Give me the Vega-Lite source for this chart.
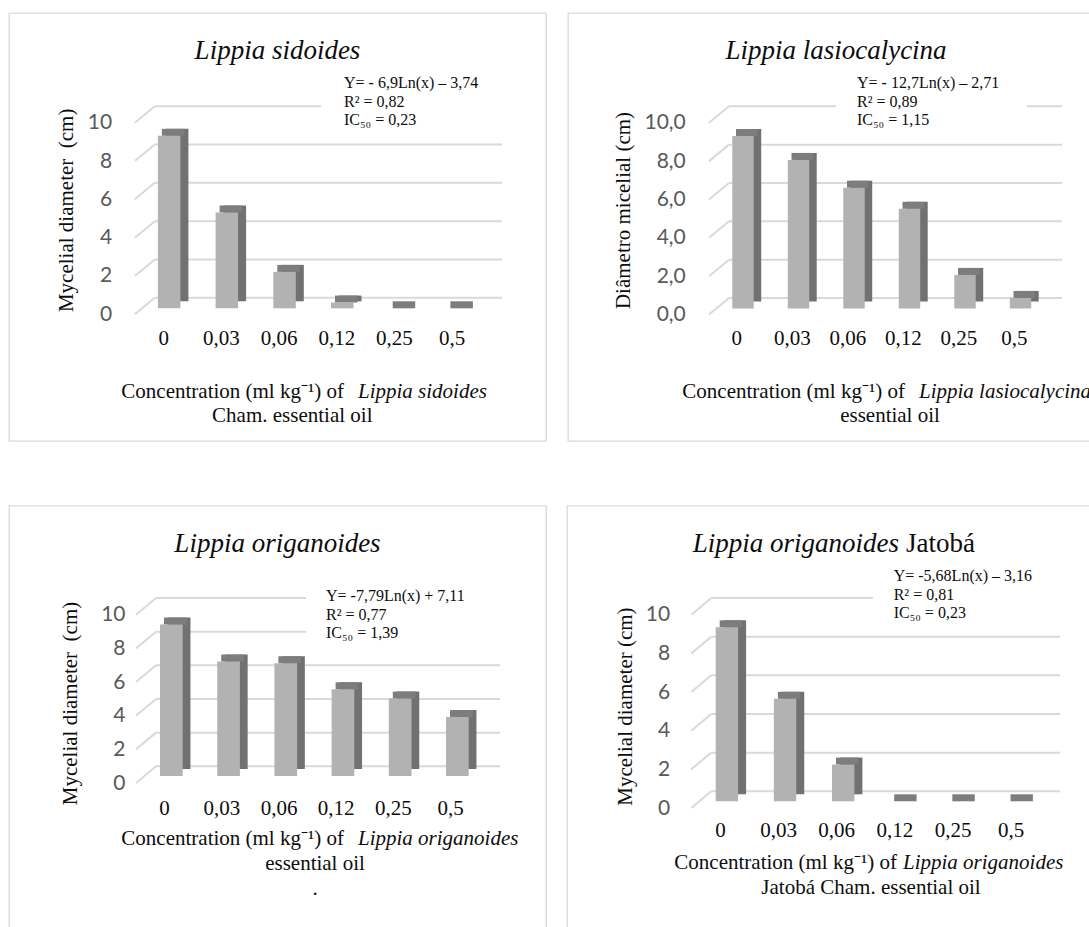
{
  "$schema": "https://vega.github.io/schema/vega-lite/v6.json",
  "padding": {"left": 8, "top": 12, "right": 0, "bottom": 0},
  "background": "white",
  "datasets": {
    "bars": [
      {"panel": 1, "conc": "0", "value": 9.0}, {"panel": 1, "conc": "0,03", "value": 5.0}, {"panel": 1, "conc": "0,06", "value": 1.9},
      {"panel": 1, "conc": "0,12", "value": 0.3}, {"panel": 1, "conc": "0,25", "value": 0}, {"panel": 1, "conc": "0,5", "value": 0},
      {"panel": 2, "conc": "0", "value": 9.0}, {"panel": 2, "conc": "0,03", "value": 7.75}, {"panel": 2, "conc": "0,06", "value": 6.3},
      {"panel": 2, "conc": "0,12", "value": 5.2}, {"panel": 2, "conc": "0,25", "value": 1.75}, {"panel": 2, "conc": "0,5", "value": 0.55},
      {"panel": 3, "conc": "0", "value": 9.0}, {"panel": 3, "conc": "0,03", "value": 6.8}, {"panel": 3, "conc": "0,06", "value": 6.7},
      {"panel": 3, "conc": "0,12", "value": 5.15}, {"panel": 3, "conc": "0,25", "value": 4.6}, {"panel": 3, "conc": "0,5", "value": 3.5},
      {"panel": 4, "conc": "0", "value": 9.0}, {"panel": 4, "conc": "0,03", "value": 5.3}, {"panel": 4, "conc": "0,06", "value": 1.9},
      {"panel": 4, "conc": "0,12", "value": 0}, {"panel": 4, "conc": "0,25", "value": 0}, {"panel": 4, "conc": "0,5", "value": 0}
    ],
    "grid": [{"v": 0}, {"v": 2}, {"v": 4}, {"v": 6}, {"v": 8}, {"v": 10}],
    "one": [{}]
  },
  "spacing": 62.7,
  "vconcat": [
    {
      "spacing": 20,
      "hconcat": [
        {
          "width": 537, "height": 428,
          "resolve": {"axis": {"x": "independent", "y": "independent"}},
          "layer": [
            {"data": {"name": "grid"},
             "mark": {"type": "rule", "color": "#d9d9d9", "strokeWidth": 2, "xOffset": 20, "x2Offset": 21, "yOffset": -16.5},
             "encoding": {"x": {"datum": "0", "type": "nominal", "bandPosition": 0, "axis": null}, "x2": {"datum": "0,5", "bandPosition": 1}, "y": {"field": "v", "type": "quantitative", "axis": null}}},
            {"data": {"name": "grid"},
             "mark": {"type": "rule", "color": "#d9d9d9", "strokeWidth": 2, "x2Offset": 20, "y2Offset": -16.5},
             "encoding": {"x": {"datum": "0", "type": "nominal", "bandPosition": 0, "axis": null}, "x2": {"datum": "0", "bandPosition": 0}, "y": {"field": "v", "type": "quantitative", "axis": null}, "y2": {"field": "v"}}},
            {"data": {"name": "one"},
             "mark": {"type": "rule", "color": "white", "strokeWidth": 16, "xOffset": 186.2, "x2Offset": 384.2, "yOffset": -16.5},
             "encoding": {"x": {"datum": "0", "type": "nominal", "bandPosition": 0, "axis": null}, "x2": {"datum": "0", "bandPosition": 0}, "y": {"datum": 10, "type": "quantitative", "axis": null}}},
            {"data": {"name": "bars"}, "transform": [{"filter": "datum.panel == 1"}],
             "mark": {"type": "bar", "color": "#717171", "width": {"band": 0.39}, "xOffset": 13.5, "x2Offset": 13.5, "yOffset": -13, "y2Offset": -13},
             "encoding": {"x": {"field": "conc", "type": "nominal", "axis": null}, "y": {"field": "value", "type": "quantitative", "axis": null}}},
            {"data": {"name": "bars"}, "transform": [{"filter": "datum.panel == 1"}],
             "mark": {"type": "tick", "orient": "horizontal", "color": "#7d7d7d", "opacity": 1, "thickness": 7, "size": 22.5, "xOffset": 9.5, "yOffset": -9.5},
             "encoding": {"x": {"field": "conc", "type": "nominal", "axis": null}, "y": {"field": "value", "type": "quantitative", "axis": null}}},
            {"data": {"name": "bars"}, "transform": [{"filter": "datum.panel == 1"}],
             "mark": {"type": "bar", "color": "#b2b2b2", "width": {"band": 0.39}, "xOffset": 5.5, "x2Offset": 5.5, "yOffset": -6, "y2Offset": -6},
             "encoding": {
               "x": {"field": "conc", "type": "nominal",
                     "scale": {"domain": ["0", "0,03", "0,06", "0,12", "0,25", "0,5"], "range": [125.8, 472], "paddingInner": 0, "paddingOuter": 0},
                     "axis": {"orient": "bottom", "offset": -102.3, "domain": false, "ticks": false, "tickSize": 0, "labelPadding": 0, "labelBaseline": "middle", "labelAngle": 0, "labelFont": "Liberation Serif", "labelFontSize": 21, "labelColor": "#0d0d0d", "title": null, "grid": false, "labelOverlap": false}},
               "y": {"field": "value", "type": "quantitative",
                     "scale": {"domain": [0, 10], "range": [301.3, 109.7], "nice": false},
                     "axis": {"orient": "left", "offset": -102.7, "values": [0, 2, 4, 6, 8, 10], "domain": false, "ticks": false, "tickSize": 0, "labelPadding": 0, "grid": false, "labelFont": "Lato", "labelFontSize": 21, "labelColor": "#595959", "labelBaseline": "middle", "title": "Mycelial diameter\u00a0 (cm)", "titleFont": "Liberation Serif", "titleFontSize": 21, "titleFontWeight": "normal", "titleColor": "#0d0d0d", "titleX": -45.7, "titleY": 196.8, "titleAngle": -90, "titleBaseline": "middle", "titleAlign": "center"}}
             }},
            {"data": {"name": "one"},
             "mark": {"type": "text", "text": "Lippia sidoides", "font": "Liberation Serif", "fontSize": 27, "fontStyle": "italic", "align": "center", "baseline": "alphabetic", "color": "#0d0d0d", "dx": 142.7, "dy": -255.3},
             "encoding": {"x": {"datum": "0", "type": "nominal", "bandPosition": 0, "axis": null}, "y": {"datum": 0, "type": "quantitative", "axis": null}}},
            {"data": {"name": "one"},
             "mark": {"type": "text", "text": ["Y= - 6,9Ln(x) – 3,74", "R² = 0,82", "IC₅₀ = 0,23"], "lineHeight": 18.5, "font": "Liberation Serif", "fontSize": 16, "align": "left", "baseline": "alphabetic", "color": "#0d0d0d", "dx": 209.2, "dy": -226.3},
             "encoding": {"x": {"datum": "0", "type": "nominal", "bandPosition": 0, "axis": null}, "y": {"datum": 0, "type": "quantitative", "axis": null}}},
            {"data": {"name": "one"},
             "mark": {"type": "text", "text": "Concentration (ml kg⁻¹) of", "font": "Liberation Serif", "fontSize": 21, "align": "right", "baseline": "alphabetic", "color": "#0d0d0d", "dx": 209.2, "dy": 83.7},
             "encoding": {"x": {"datum": "0", "type": "nominal", "bandPosition": 0, "axis": null}, "y": {"datum": 0, "type": "quantitative", "axis": null}}},
            {"data": {"name": "one"},
             "mark": {"type": "text", "text": "Lippia sidoides", "font": "Liberation Serif", "fontSize": 21, "fontStyle": "italic", "align": "left", "baseline": "alphabetic", "color": "#0d0d0d", "dx": 223.2, "dy": 83.7},
             "encoding": {"x": {"datum": "0", "type": "nominal", "bandPosition": 0, "axis": null}, "y": {"datum": 0, "type": "quantitative", "axis": null}}},
            {"data": {"name": "one"},
             "mark": {"type": "text", "text": "Cham. essential oil", "font": "Liberation Serif", "fontSize": 21, "align": "center", "baseline": "alphabetic", "color": "#0d0d0d", "dx": 157.5, "dy": 107.7},
             "encoding": {"x": {"datum": "0", "type": "nominal", "bandPosition": 0, "axis": null}, "y": {"datum": 0, "type": "quantitative", "axis": null}}}
          ]
        },
        {
          "width": 524, "height": 428,
          "resolve": {"axis": {"x": "independent", "y": "independent"}},
          "layer": [
            {"data": {"name": "grid"},
             "mark": {"type": "rule", "color": "#d9d9d9", "strokeWidth": 2, "xOffset": 20, "x2Offset": 20, "yOffset": -16.5},
             "encoding": {"x": {"datum": "0", "type": "nominal", "bandPosition": 0, "axis": null}, "x2": {"datum": "0,5", "bandPosition": 1}, "y": {"field": "v", "type": "quantitative", "axis": null}}},
            {"data": {"name": "grid"},
             "mark": {"type": "rule", "color": "#d9d9d9", "strokeWidth": 2, "x2Offset": 20, "y2Offset": -16.5},
             "encoding": {"x": {"datum": "0", "type": "nominal", "bandPosition": 0, "axis": null}, "x2": {"datum": "0", "bandPosition": 0}, "y": {"field": "v", "type": "quantitative", "axis": null}, "y2": {"field": "v"}}},
            {"data": {"name": "one"},
             "mark": {"type": "rule", "color": "white", "strokeWidth": 16, "xOffset": 127, "x2Offset": 318, "yOffset": -16.5},
             "encoding": {"x": {"datum": "0", "type": "nominal", "bandPosition": 0, "axis": null}, "x2": {"datum": "0", "bandPosition": 0}, "y": {"datum": 10, "type": "quantitative", "axis": null}}},
            {"data": {"name": "bars"}, "transform": [{"filter": "datum.panel == 2"}],
             "mark": {"type": "bar", "color": "#717171", "width": {"band": 0.386}, "xOffset": 13.75, "x2Offset": 13.75, "yOffset": -13, "y2Offset": -13},
             "encoding": {"x": {"field": "conc", "type": "nominal", "axis": null}, "y": {"field": "value", "type": "quantitative", "axis": null}}},
            {"data": {"name": "bars"}, "transform": [{"filter": "datum.panel == 2"}],
             "mark": {"type": "tick", "orient": "horizontal", "color": "#7d7d7d", "opacity": 1, "thickness": 7, "size": 21.5, "xOffset": 10, "yOffset": -9.5},
             "encoding": {"x": {"field": "conc", "type": "nominal", "axis": null}, "y": {"field": "value", "type": "quantitative", "axis": null}}},
            {"data": {"name": "bars"}, "transform": [{"filter": "datum.panel == 2"}],
             "mark": {"type": "bar", "color": "#b2b2b2", "width": {"band": 0.386}, "xOffset": 6.25, "x2Offset": 6.25, "yOffset": -6, "y2Offset": -6},
             "encoding": {
               "x": {"field": "conc", "type": "nominal",
                     "scale": {"domain": ["0", "0,03", "0,06", "0,12", "0,25", "0,5"], "range": [141, 474], "paddingInner": 0, "paddingOuter": 0},
                     "axis": {"orient": "bottom", "offset": -102.3, "domain": false, "ticks": false, "tickSize": 0, "labelPadding": 0, "labelBaseline": "middle", "labelAngle": 0, "labelFont": "Liberation Serif", "labelFontSize": 21, "labelColor": "#0d0d0d", "title": null, "grid": false, "labelOverlap": false}},
               "y": {"field": "value", "type": "quantitative",
                     "scale": {"domain": [0, 10], "range": [301.5, 109.8], "nice": false},
                     "axis": {"orient": "left", "offset": -117.3, "values": [0, 2, 4, 6, 8, 10], "labelExpr": "replace(format(datum.value, '.1f'), '.', ',')", "domain": false, "ticks": false, "tickSize": 0, "labelPadding": 0, "grid": false, "labelFont": "Lato", "labelFontSize": 21, "labelColor": "#595959", "labelBaseline": "middle", "title": "Diâmetro micelial (cm)", "titleFont": "Liberation Serif", "titleFontSize": 21, "titleFontWeight": "normal", "titleColor": "#0d0d0d", "titleX": -62.3, "titleY": 197, "titleAngle": -90, "titleBaseline": "middle", "titleAlign": "center"}}
             }},
            {"data": {"name": "one"},
             "mark": {"type": "text", "text": "Lippia lasiocalycina", "font": "Liberation Serif", "fontSize": 27, "fontStyle": "italic", "align": "center", "baseline": "alphabetic", "color": "#0d0d0d", "dx": 127, "dy": -255.5},
             "encoding": {"x": {"datum": "0", "type": "nominal", "bandPosition": 0, "axis": null}, "y": {"datum": 0, "type": "quantitative", "axis": null}}},
            {"data": {"name": "one"},
             "mark": {"type": "text", "text": ["Y= - 12,7Ln(x) – 2,71", "R² = 0,89", "IC₅₀ = 1,15"], "lineHeight": 18.5, "font": "Liberation Serif", "fontSize": 16, "align": "left", "baseline": "alphabetic", "color": "#0d0d0d", "dx": 148, "dy": -226.5},
             "encoding": {"x": {"datum": "0", "type": "nominal", "bandPosition": 0, "axis": null}, "y": {"datum": 0, "type": "quantitative", "axis": null}}},
            {"data": {"name": "one"},
             "mark": {"type": "text", "text": "Concentration (ml kg⁻¹) of", "font": "Liberation Serif", "fontSize": 21, "align": "right", "baseline": "alphabetic", "color": "#0d0d0d", "dx": 196, "dy": 83.5},
             "encoding": {"x": {"datum": "0", "type": "nominal", "bandPosition": 0, "axis": null}, "y": {"datum": 0, "type": "quantitative", "axis": null}}},
            {"data": {"name": "one"},
             "mark": {"type": "text", "clip": true, "text": "Lippia lasiocalycina", "font": "Liberation Serif", "fontSize": 21, "fontStyle": "italic", "align": "left", "baseline": "alphabetic", "color": "#0d0d0d", "dx": 210, "dy": 83.5},
             "encoding": {"x": {"datum": "0", "type": "nominal", "bandPosition": 0, "axis": null}, "y": {"datum": 0, "type": "quantitative", "axis": null}}},
            {"data": {"name": "one"},
             "mark": {"type": "text", "text": "essential oil", "font": "Liberation Serif", "fontSize": 21, "align": "center", "baseline": "alphabetic", "color": "#0d0d0d", "dx": 181, "dy": 107.5},
             "encoding": {"x": {"datum": "0", "type": "nominal", "bandPosition": 0, "axis": null}, "y": {"datum": 0, "type": "quantitative", "axis": null}}}
          ]
        }
      ]
    },
    {
      "spacing": 19,
      "hconcat": [
        {
          "width": 537, "height": 424,
          "resolve": {"axis": {"x": "independent", "y": "independent"}},
          "layer": [
            {"data": {"name": "grid"},
             "mark": {"type": "rule", "color": "#d9d9d9", "strokeWidth": 2, "xOffset": 20, "x2Offset": 21, "yOffset": -16.7},
             "encoding": {"x": {"datum": "0", "type": "nominal", "bandPosition": 0, "axis": null}, "x2": {"datum": "0,5", "bandPosition": 1}, "y": {"field": "v", "type": "quantitative", "axis": null}}},
            {"data": {"name": "grid"},
             "mark": {"type": "rule", "color": "#d9d9d9", "strokeWidth": 2, "x2Offset": 20, "y2Offset": -16.7},
             "encoding": {"x": {"datum": "0", "type": "nominal", "bandPosition": 0, "axis": null}, "x2": {"datum": "0", "bandPosition": 0}, "y": {"field": "v", "type": "quantitative", "axis": null}, "y2": {"field": "v"}}},
            {"data": {"name": "one"},
             "mark": {"type": "rule", "color": "white", "strokeWidth": 50, "xOffset": 170, "x2Offset": 383, "yOffset": -16.7},
             "encoding": {"x": {"datum": "0", "type": "nominal", "bandPosition": 0, "axis": null}, "x2": {"datum": "0", "bandPosition": 0}, "y": {"datum": 9, "type": "quantitative", "axis": null}}},
            {"data": {"name": "bars"}, "transform": [{"filter": "datum.panel == 3"}],
             "mark": {"type": "bar", "color": "#717171", "width": {"band": 0.397}, "xOffset": 14.5, "x2Offset": 14.5, "yOffset": -14, "y2Offset": -14},
             "encoding": {"x": {"field": "conc", "type": "nominal", "axis": null}, "y": {"field": "value", "type": "quantitative", "axis": null}}},
            {"data": {"name": "bars"}, "transform": [{"filter": "datum.panel == 3"}],
             "mark": {"type": "tick", "orient": "horizontal", "color": "#7d7d7d", "opacity": 1, "thickness": 7, "size": 22.7, "xOffset": 10.75, "yOffset": -10.5},
             "encoding": {"x": {"field": "conc", "type": "nominal", "axis": null}, "y": {"field": "value", "type": "quantitative", "axis": null}}},
            {"data": {"name": "bars"}, "transform": [{"filter": "datum.panel == 3"}],
             "mark": {"type": "bar", "color": "#b2b2b2", "width": {"band": 0.397}, "xOffset": 6.75, "x2Offset": 6.75, "yOffset": -7, "y2Offset": -7},
             "encoding": {
               "x": {"field": "conc", "type": "nominal",
                     "scale": {"domain": ["0", "0,03", "0,06", "0,12", "0,25", "0,5"], "range": [127, 470.2], "paddingInner": 0, "paddingOuter": 0},
                     "axis": {"orient": "bottom", "offset": -121.7, "domain": false, "ticks": false, "tickSize": 0, "labelPadding": 0, "labelBaseline": "middle", "labelAngle": 0, "labelFont": "Liberation Serif", "labelFontSize": 21, "labelColor": "#0d0d0d", "title": null, "grid": false, "labelOverlap": false}},
               "y": {"field": "value", "type": "quantitative",
                     "scale": {"domain": [0, 10], "range": [277.3, 109], "nice": false},
                     "axis": {"orient": "left", "offset": -116, "values": [0, 2, 4, 6, 8, 10], "domain": false, "ticks": false, "tickSize": 0, "labelPadding": 0, "grid": false, "labelFont": "Lato", "labelFontSize": 21, "labelColor": "#595959", "labelBaseline": "middle", "title": "Mycelial diameter\u00a0 (cm)", "titleFont": "Liberation Serif", "titleFontSize": 21, "titleFontWeight": "normal", "titleColor": "#0d0d0d", "titleX": -55, "titleY": 197.3, "titleAngle": -90, "titleBaseline": "middle", "titleAlign": "center"}}
             }},
            {"data": {"name": "one"},
             "mark": {"type": "text", "text": "Lippia origanoides", "font": "Liberation Serif", "fontSize": 27, "fontStyle": "italic", "align": "center", "baseline": "alphabetic", "color": "#0d0d0d", "dx": 141.5, "dy": -231},
             "encoding": {"x": {"datum": "0", "type": "nominal", "bandPosition": 0, "axis": null}, "y": {"datum": 0, "type": "quantitative", "axis": null}}},
            {"data": {"name": "one"},
             "mark": {"type": "text", "text": ["Y= -7,79Ln(x) + 7,11", "R² = 0,77", "IC₅₀ = 1,39"], "lineHeight": 18.5, "font": "Liberation Serif", "fontSize": 16, "align": "left", "baseline": "alphabetic", "color": "#0d0d0d", "dx": 190, "dy": -182},
             "encoding": {"x": {"datum": "0", "type": "nominal", "bandPosition": 0, "axis": null}, "y": {"datum": 0, "type": "quantitative", "axis": null}}},
            {"data": {"name": "one"},
             "mark": {"type": "text", "text": "Concentration (ml kg⁻¹) of", "font": "Liberation Serif", "fontSize": 21, "align": "right", "baseline": "alphabetic", "color": "#0d0d0d", "dx": 208, "dy": 62},
             "encoding": {"x": {"datum": "0", "type": "nominal", "bandPosition": 0, "axis": null}, "y": {"datum": 0, "type": "quantitative", "axis": null}}},
            {"data": {"name": "one"},
             "mark": {"type": "text", "text": "Lippia origanoides", "font": "Liberation Serif", "fontSize": 21, "fontStyle": "italic", "align": "left", "baseline": "alphabetic", "color": "#0d0d0d", "dx": 222, "dy": 62},
             "encoding": {"x": {"datum": "0", "type": "nominal", "bandPosition": 0, "axis": null}, "y": {"datum": 0, "type": "quantitative", "axis": null}}},
            {"data": {"name": "one"},
             "mark": {"type": "text", "text": "essential oil", "font": "Liberation Serif", "fontSize": 21, "align": "center", "baseline": "alphabetic", "color": "#0d0d0d", "dx": 179, "dy": 87},
             "encoding": {"x": {"datum": "0", "type": "nominal", "bandPosition": 0, "axis": null}, "y": {"datum": 0, "type": "quantitative", "axis": null}}},
            {"data": {"name": "one"},
             "mark": {"type": "text", "text": ".", "font": "Liberation Serif", "fontSize": 21, "align": "center", "baseline": "alphabetic", "color": "#0d0d0d", "dx": 179, "dy": 112},
             "encoding": {"x": {"datum": "0", "type": "nominal", "bandPosition": 0, "axis": null}, "y": {"datum": 0, "type": "quantitative", "axis": null}}}
          ]
        },
        {
          "width": 525, "height": 424,
          "resolve": {"axis": {"x": "independent", "y": "independent"}},
          "layer": [
            {"data": {"name": "grid"},
             "mark": {"type": "rule", "color": "#d9d9d9", "strokeWidth": 2, "xOffset": 20, "x2Offset": 20, "yOffset": -16.7},
             "encoding": {"x": {"datum": "0", "type": "nominal", "bandPosition": 0, "axis": null}, "x2": {"datum": "0,5", "bandPosition": 1}, "y": {"field": "v", "type": "quantitative", "axis": null}}},
            {"data": {"name": "grid"},
             "mark": {"type": "rule", "color": "#d9d9d9", "strokeWidth": 2, "x2Offset": 20, "y2Offset": -16.7},
             "encoding": {"x": {"datum": "0", "type": "nominal", "bandPosition": 0, "axis": null}, "x2": {"datum": "0", "bandPosition": 0}, "y": {"field": "v", "type": "quantitative", "axis": null}, "y2": {"field": "v"}}},
            {"data": {"name": "one"},
             "mark": {"type": "rule", "color": "white", "strokeWidth": 16, "xOffset": 181.7, "x2Offset": 385.7, "yOffset": -16.7},
             "encoding": {"x": {"datum": "0", "type": "nominal", "bandPosition": 0, "axis": null}, "x2": {"datum": "0", "bandPosition": 0}, "y": {"datum": 10, "type": "quantitative", "axis": null}}},
            {"data": {"name": "bars"}, "transform": [{"filter": "datum.panel == 4"}],
             "mark": {"type": "bar", "color": "#717171", "width": {"band": 0.385}, "xOffset": 14.5, "x2Offset": 14.5, "yOffset": -13.7, "y2Offset": -13.7},
             "encoding": {"x": {"field": "conc", "type": "nominal", "axis": null}, "y": {"field": "value", "type": "quantitative", "axis": null}}},
            {"data": {"name": "bars"}, "transform": [{"filter": "datum.panel == 4"}],
             "mark": {"type": "tick", "orient": "horizontal", "color": "#7d7d7d", "opacity": 1, "thickness": 7, "size": 22.4, "xOffset": 10.5, "yOffset": -10.2},
             "encoding": {"x": {"field": "conc", "type": "nominal", "axis": null}, "y": {"field": "value", "type": "quantitative", "axis": null}}},
            {"data": {"name": "bars"}, "transform": [{"filter": "datum.panel == 4"}],
             "mark": {"type": "bar", "color": "#b2b2b2", "width": {"band": 0.385}, "xOffset": 6.5, "x2Offset": 6.5, "yOffset": -6.7, "y2Offset": -6.7},
             "encoding": {
               "x": {"field": "conc", "type": "nominal",
                     "scale": {"domain": ["0", "0,03", "0,06", "0,12", "0,25", "0,5"], "range": [124.3, 473.3], "paddingInner": 0, "paddingOuter": 0},
                     "axis": {"orient": "bottom", "offset": -99.7, "domain": false, "ticks": false, "tickSize": 0, "labelPadding": 0, "labelBaseline": "middle", "labelAngle": 0, "labelFont": "Liberation Serif", "labelFontSize": 21, "labelColor": "#0d0d0d", "title": null, "grid": false, "labelOverlap": false}},
               "y": {"field": "value", "type": "quantitative",
                     "scale": {"domain": [0, 10], "range": [302.3, 109], "nice": false},
                     "axis": {"orient": "left", "offset": -102.7, "values": [0, 2, 4, 6, 8, 10], "domain": false, "ticks": false, "tickSize": 0, "labelPadding": 0, "grid": false, "labelFont": "Lato", "labelFontSize": 21, "labelColor": "#595959", "labelBaseline": "middle", "title": "Mycelial diameter (cm)", "titleFont": "Liberation Serif", "titleFontSize": 21, "titleFontWeight": "normal", "titleColor": "#0d0d0d", "titleX": -44.7, "titleY": 200.3, "titleAngle": -90, "titleBaseline": "middle", "titleAlign": "center"}}
             }},
            {"data": {"name": "one"},
             "mark": {"type": "text", "text": "Lippia origanoides", "font": "Liberation Serif", "fontSize": 27, "fontStyle": "italic", "align": "right", "baseline": "alphabetic", "color": "#0d0d0d", "dx": 207.7, "dy": -256.3},
             "encoding": {"x": {"datum": "0", "type": "nominal", "bandPosition": 0, "axis": null}, "y": {"datum": 0, "type": "quantitative", "axis": null}}},
            {"data": {"name": "one"},
             "mark": {"type": "text", "text": "Jatobá", "font": "Liberation Serif", "fontSize": 27, "align": "left", "baseline": "alphabetic", "color": "#0d0d0d", "dx": 214.7, "dy": -256.3},
             "encoding": {"x": {"datum": "0", "type": "nominal", "bandPosition": 0, "axis": null}, "y": {"datum": 0, "type": "quantitative", "axis": null}}},
            {"data": {"name": "one"},
             "mark": {"type": "text", "text": ["Y= -5,68Ln(x) – 3,16", "R² = 0,81", "IC₅₀ = 0,23"], "lineHeight": 18.5, "font": "Liberation Serif", "fontSize": 16, "align": "left", "baseline": "alphabetic", "color": "#0d0d0d", "dx": 202.4, "dy": -227},
             "encoding": {"x": {"datum": "0", "type": "nominal", "bandPosition": 0, "axis": null}, "y": {"datum": 0, "type": "quantitative", "axis": null}}},
            {"data": {"name": "one"},
             "mark": {"type": "text", "text": "Concentration (ml kg⁻¹) of", "font": "Liberation Serif", "fontSize": 21, "align": "right", "baseline": "alphabetic", "color": "#0d0d0d", "dx": 205.7, "dy": 61},
             "encoding": {"x": {"datum": "0", "type": "nominal", "bandPosition": 0, "axis": null}, "y": {"datum": 0, "type": "quantitative", "axis": null}}},
            {"data": {"name": "one"},
             "mark": {"type": "text", "text": "Lippia origanoides", "font": "Liberation Serif", "fontSize": 21, "fontStyle": "italic", "align": "left", "baseline": "alphabetic", "color": "#0d0d0d", "dx": 211.7, "dy": 61},
             "encoding": {"x": {"datum": "0", "type": "nominal", "bandPosition": 0, "axis": null}, "y": {"datum": 0, "type": "quantitative", "axis": null}}},
            {"data": {"name": "one"},
             "mark": {"type": "text", "text": "Jatobá Cham. essential oil", "font": "Liberation Serif", "fontSize": 21, "align": "center", "baseline": "alphabetic", "color": "#0d0d0d", "dx": 179.7, "dy": 85.7},
             "encoding": {"x": {"datum": "0", "type": "nominal", "bandPosition": 0, "axis": null}, "y": {"datum": 0, "type": "quantitative", "axis": null}}}
          ]
        }
      ]
    }
  ],
  "config": {
    "view": {"stroke": "#d9d9d9", "strokeWidth": 1.3},
    "font": "Liberation Serif"
  }
}
